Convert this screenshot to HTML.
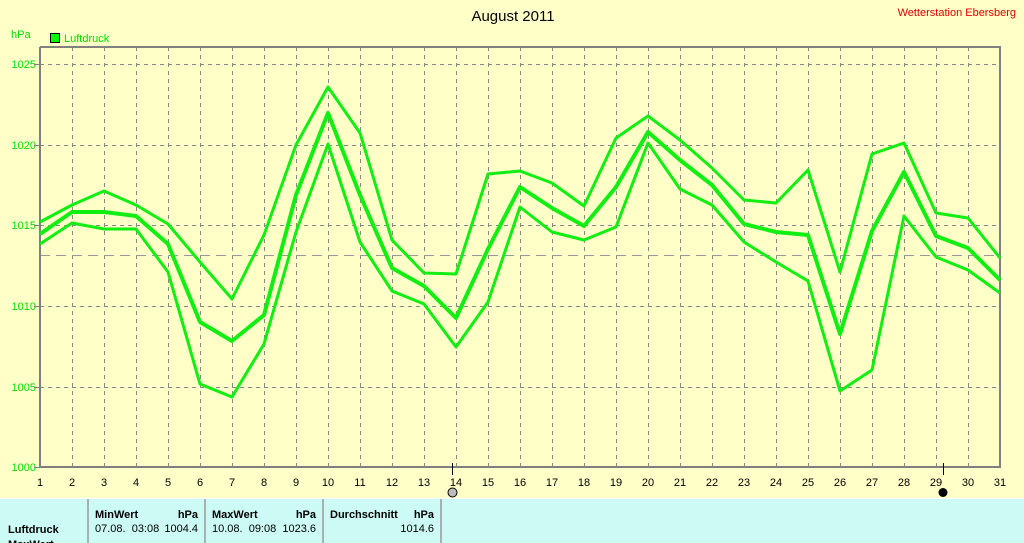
<!DOCTYPE html><html><head><style>body{margin:0;background:#ffffc8;width:1024px;height:543px;overflow:hidden;font-family:"Liberation Sans",sans-serif}text{white-space:pre}</style></head><body>
<svg width="1024" height="543" style="position:absolute;left:0;top:0" font-family="Liberation Sans, sans-serif">
<rect width="1024" height="543" fill="#ffffc8"/>
<text x="513" y="21" font-size="15" text-anchor="middle">August 2011</text>
<text x="1016" y="16" font-size="11" fill="#e00000" text-anchor="end">Wetterstation Ebersberg</text>
<text x="11" y="38" font-size="11" fill="#00dd00">hPa</text>
<rect x="50.5" y="33.5" width="9" height="9" fill="#00ff00" stroke="#000"/>
<text x="64" y="42" font-size="11" fill="#00dd00">Luftdruck</text>
<g stroke="#888" stroke-dasharray="4,4" stroke-width="1">
<line x1="40" x2="1000" y1="64.5" y2="64.5"/><line x1="40" x2="1000" y1="145.5" y2="145.5"/><line x1="40" x2="1000" y1="225.5" y2="225.5"/><line x1="40" x2="1000" y1="306.5" y2="306.5"/><line x1="40" x2="1000" y1="387.5" y2="387.5"/>
<path d="M72.5 47V467M104.5 47V467M136.5 47V467M168.5 47V467M200.5 47V467M232.5 47V467M264.5 47V467M296.5 47V467M328.5 47V467M360.5 47V467M392.5 47V467M424.5 47V467M456.5 47V467M488.5 47V467M520.5 47V467M552.5 47V467M584.5 47V467M616.5 47V467M648.5 47V467M680.5 47V467M712.5 47V467M744.5 47V467M776.5 47V467M808.5 47V467M840.5 47V467M872.5 47V467M904.5 47V467M936.5 47V467M968.5 47V467"/>
</g>
<line x1="40" x2="1000" y1="255.5" y2="255.5" stroke="#999" stroke-dasharray="10,6"/>
<path d="M40 47V467H1000V47H40" fill="none" stroke="#808080" stroke-width="2"/>
<g font-size="11" fill="#00dd00" text-anchor="end"><text x="36" y="68">1025</text><text x="36" y="149">1020</text><text x="36" y="229">1015</text><text x="36" y="310">1010</text><text x="36" y="391">1005</text><text x="36" y="471">1000</text></g>
<g stroke="#808080"><line x1="34" x2="40" y1="64.5" y2="64.5"/><line x1="34" x2="40" y1="145.5" y2="145.5"/><line x1="34" x2="40" y1="225.5" y2="225.5"/><line x1="34" x2="40" y1="306.5" y2="306.5"/><line x1="34" x2="40" y1="387.5" y2="387.5"/><line x1="34" x2="40" y1="467.5" y2="467.5"/></g>
<g font-size="11" text-anchor="middle">
<text x="40" y="486">1</text><text x="72" y="486">2</text><text x="104" y="486">3</text><text x="136" y="486">4</text><text x="168" y="486">5</text><text x="200" y="486">6</text><text x="232" y="486">7</text><text x="264" y="486">8</text><text x="296" y="486">9</text><text x="328" y="486">10</text><text x="360" y="486">11</text><text x="392" y="486">12</text><text x="424" y="486">13</text><text x="456" y="486">14</text><text x="488" y="486">15</text><text x="520" y="486">16</text><text x="552" y="486">17</text><text x="584" y="486">18</text><text x="616" y="486">19</text><text x="648" y="486">20</text><text x="680" y="486">21</text><text x="712" y="486">22</text><text x="744" y="486">23</text><text x="776" y="486">24</text><text x="808" y="486">25</text><text x="840" y="486">26</text><text x="872" y="486">27</text><text x="904" y="486">28</text><text x="936" y="486">29</text><text x="968" y="486">30</text><text x="1000" y="486">31</text></g>
<line x1="452.5" x2="452.5" y1="463" y2="475" stroke="#000"/><line x1="943.5" x2="943.5" y1="463" y2="475" stroke="#000"/>
<circle cx="452.5" cy="492.5" r="4.5" fill="#bbb" stroke="#000"/><circle cx="943" cy="492.5" r="4.5" fill="#000"/>
<g fill="none" stroke="#11ee11" stroke-linejoin="round">
<polyline stroke-width="3" points="40,222 72,205 104,191 136,205 168,224 200,262 232,299 264,235 296,145 328,87 360,133 392,240 424,273 456,274 488,174 520,171 552,183 584,206 616,138 648,116 680,140 712,168 744,200 776,203 808,170 840,272 872,154 904,143 936,213 968,218 1000,258"/>
<polyline stroke-width="3" points="40,244 72,223 104,229 136,229 168,272 200,384 232,397 264,344 296,232 328,144 360,242 392,291 424,304 456,347 488,302 520,207 552,232 584,240 616,227 648,143 680,189 712,205 744,242 776,262 808,281 840,391 872,370 904,216 936,257 968,270 1000,293"/>
<polyline stroke-width="4" points="40,234 72,212 104,212 136,216 168,244 200,322 232,341 264,315 296,195 328,113 360,195 392,268 424,286 456,318 488,249 520,187 552,208 584,226 616,187 648,132 680,160 712,185 744,224 776,232 808,235 840,334 872,231 904,172 936,236 968,248 1000,280"/>
</g>
<rect x="0" y="498" width="1024" height="45" fill="#ccfaf5"/>
<rect x="0" y="498" width="1024" height="1" fill="#fff"/>
<g stroke="#999" stroke-width="1.5"><line x1="88" x2="88" y1="499" y2="543"/><line x1="205" x2="205" y1="499" y2="543"/><line x1="323" x2="323" y1="499" y2="543"/><line x1="441" x2="441" y1="499" y2="543"/></g>
<g font-size="11"><text x="8" y="533" font-weight="bold">Luftdruck</text>
<text x="95" y="518" font-weight="bold">MinWert</text><text x="198" y="518" font-weight="bold" text-anchor="end">hPa</text><text x="95" y="532">07.08.  03:08</text><text x="198" y="532" text-anchor="end">1004.4</text>
<text x="212" y="518" font-weight="bold">MaxWert</text><text x="316" y="518" font-weight="bold" text-anchor="end">hPa</text><text x="212" y="532">10.08.  09:08</text><text x="316" y="532" text-anchor="end">1023.6</text>
<text x="330" y="518" font-weight="bold">Durchschnitt</text><text x="434" y="518" font-weight="bold" text-anchor="end">hPa</text><text x="434" y="532" text-anchor="end">1014.6</text>
<text x="8" y="548" font-weight="bold">MaxWert</text></g>
</svg></body></html>
